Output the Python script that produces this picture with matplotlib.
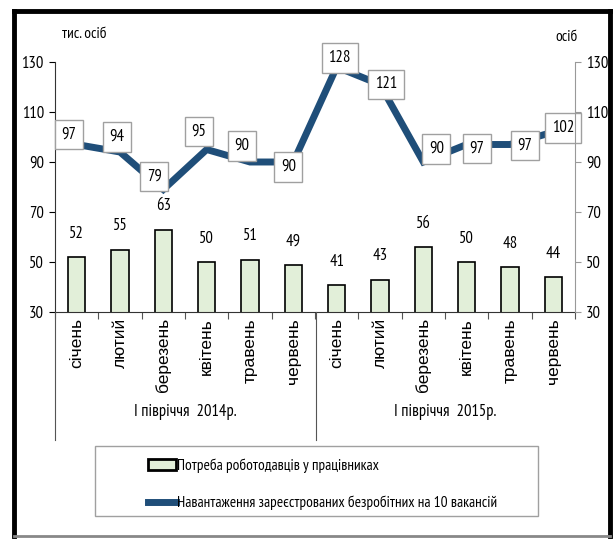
import matplotlib
matplotlib.use("Agg")
import matplotlib.pyplot as plt
from matplotlib.patches import Rectangle, Patch
from matplotlib.lines import Line2D
from matplotlib import font_manager
import numpy as np

months = ["січень", "лютий", "березень", "квітень", "травень", "червень",
          "січень", "лютий", "березень", "квітень", "травень", "червень"]
groups = ["І півріччя  2014р.", "І півріччя  2015р."]
demand = [52, 55, 63, 50, 51, 49, 41, 43, 56, 50, 48, 44]
load = [97, 94, 79, 95, 90, 90, 128, 121, 90, 97, 97, 102]
yticks = [30, 50, 70, 90, 110, 130]
legend_labels = ["Потреба роботодавців у працівниках",
                 "Навантаження зареєстрованих безробітних на 10 вакансій"]

available = {f.name for f in font_manager.fontManager.ttflist}
candidates = ["Arial Narrow", "Liberation Sans Narrow", "PT Sans Narrow", "Roboto Condensed",
              "Fira Sans Condensed", "IBM Plex Sans Condensed", "Ubuntu Condensed",
              "Open Sans Condensed", "Liberation Sans"]
narrow = next((c for c in candidates if c in available), "DejaVu Sans")
NARROW = [narrow, "DejaVu Sans"]
REG = ["Liberation Sans", "DejaVu Sans"]
BLUE = "#1f4e79"
GREEN = "#e2efd9"

W, H = 614, 539
fig = plt.figure(figsize=(W / 100, H / 100), dpi=100)
fig.patch.set_facecolor("white")

def fx(px):
    return px / W

def fy(py):
    return 1 - py / H

ax_l, ax_r, ax_t, ax_b = 55, 575, 62, 312
ax = fig.add_axes([fx(ax_l), fy(ax_b), fx(ax_r - ax_l), (ax_b - ax_t) / H])
x = np.arange(len(months))
ax.bar(x, demand, width=0.4, color=GREEN, edgecolor="black", linewidth=1.2, zorder=2)
ax.plot(x, load, color=BLUE, linewidth=5, zorder=3, solid_joinstyle="miter")
ax.set_xlim(-0.5, len(months) - 0.5)
ax.set_ylim(30, 130)
ax.set_yticks(yticks)
ax.set_yticklabels([str(t) for t in yticks], fontfamily=NARROW, fontsize=12)
ax.tick_params(axis="y", length=4, direction="out", pad=4)
ax.set_xticks(np.arange(-0.5, len(months), 1.0))
ax.set_xticklabels([])
ax.tick_params(axis="x", length=5, color="#555555")
for s in ["top", "right"]:
    ax.spines[s].set_visible(False)
ax.spines["left"].set_color("#333333")
ax.spines["bottom"].set_color("#333333")

ax2 = ax.twinx()
ax2.set_ylim(30, 130)
ax2.set_yticks(yticks)
ax2.set_yticklabels([str(t) for t in yticks], fontfamily=NARROW, fontsize=12)
ax2.tick_params(axis="y", length=4, color="#999999", pad=4)
for s in ["top", "left", "bottom"]:
    ax2.spines[s].set_visible(False)
ax2.spines["right"].set_color("#999999")

# bar labels
for xi, v in zip(x, demand):
    ax.annotate(str(v), (xi, v), xytext=(0, 15), textcoords="offset pixels",
                ha="center", va="bottom", fontfamily=NARROW, fontsize=12, zorder=4)

# line labels (boxes), offsets in pixels (dx right, dy down)
offs = [(-8, -10), (-3, -15), (-9, -13), (-8, -18), (-8, -16), (-5, 5),
        (3, -9), (6, 0), (13, -13), (10, 4), (15, 1), (10, -4)]
for xi, v, (dx, dy) in zip(x, load, offs):
    ax.annotate(str(v), (xi, v), xytext=(dx, -dy), textcoords="offset pixels",
                ha="center", va="center", fontfamily=NARROW, fontsize=12, zorder=5,
                bbox=dict(boxstyle="square,pad=0.4", fc="white", ec="#a0a0a0", lw=1))

# month labels
for xi, m in zip(x, months):
    ax.text(xi, -0.025, m, transform=ax.get_xaxis_transform(), rotation=90,
            ha="center", va="top", fontfamily=REG, fontsize=12.5)

# group separators and labels
sep_bottom = 440
for px in [ax_l, 316]:
    fig.add_artist(Line2D([fx(px), fx(px)], [fy(ax_b), fy(sep_bottom)],
                          color="#555555", lw=0.8))
ax.text(2.5, -0.4, groups[0], transform=ax.get_xaxis_transform(),
        ha="center", va="center", fontfamily=NARROW, fontsize=12)
ax.text(8.5, -0.4, groups[1], transform=ax.get_xaxis_transform(),
        ha="center", va="center", fontfamily=NARROW, fontsize=12)

# unit labels
fig.text(fx(62), fy(34), "тис. осіб", fontfamily=NARROW, fontsize=11, ha="left", va="center")
fig.text(fx(566), fy(37), "осіб", fontfamily=NARROW, fontsize=11, ha="center", va="center")

# legend frame
fig.add_artist(Rectangle((fx(95), fy(516)), fx(538 - 95), (516 - 446) / H,
                         fill=False, ec="#a0a0a0", lw=1))
handles = [Patch(facecolor=GREEN, edgecolor="black", linewidth=2),
           Line2D([0], [0], color=BLUE, lw=5)]
fig.legend(handles, legend_labels, loc="upper left", bbox_to_anchor=(fx(136), fy(446)),
           frameon=False, prop={"family": NARROW, "size": 11}, handlelength=1.8,
           handletextpad=0.1, labelspacing=1.5, borderpad=0.3)

# outer frame: black top/left/right, gray bottom
for (x0, y0, x1, y1, c, lw) in [(14, 11, 610, 11, "black", 3.5), (14, 11, 14, 536, "black", 3.5),
                                 (610, 11, 610, 536, "black", 3.5), (14, 536, 610, 536, "#888888", 2)]:
    fig.add_artist(Line2D([fx(x0), fx(x1)], [fy(y0), fy(y1)], color=c, lw=lw,
                          solid_capstyle="projecting"))

fig.savefig("out.png", dpi=100)
